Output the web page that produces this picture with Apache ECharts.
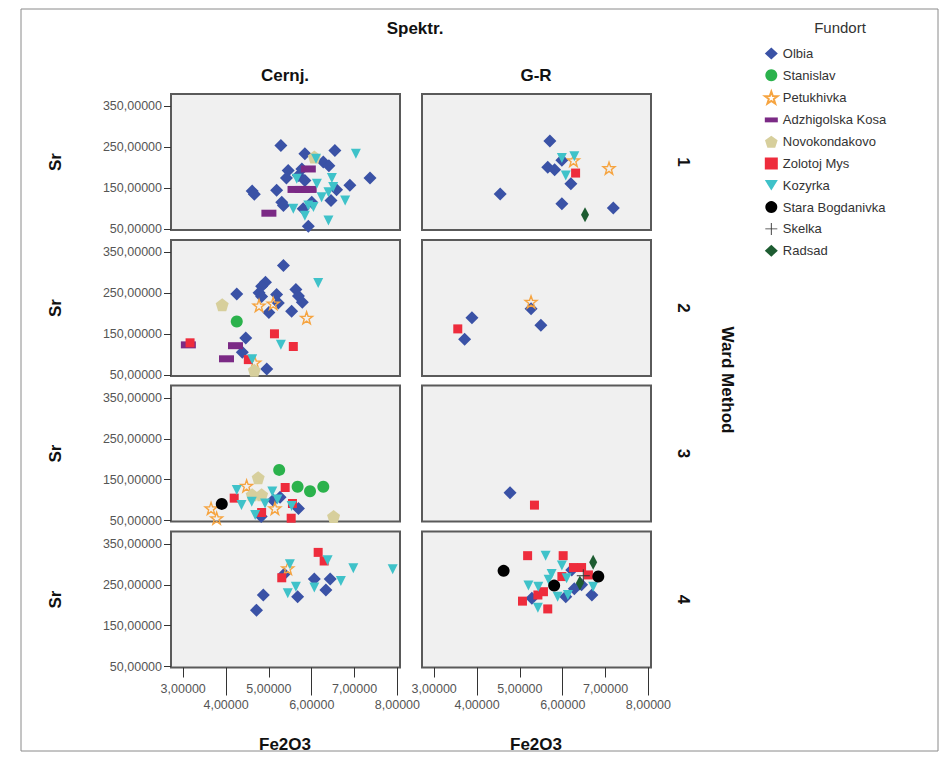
<!DOCTYPE html>
<html><head><meta charset="utf-8">
<script src="https://cdn.jsdelivr.net/npm/echarts@6/dist/echarts.min.js"></script>
<style>html,body{margin:0;padding:0;background:#fff}#c{width:945px;height:757px}</style>
</head><body><div id="c"></div>
<script>
// ---------- data ----------
const fundorte = ['Olbia','Stanislav','Petukhivka','Adzhigolska Kosa','Novokondakovo','Zolotoj Mys','Kozyrka','Stara Bogdanivka','Skelka','Radsad'];
const columns = ['Cernj.','G-R'];
const rowLabels = ['1','2','3','4'];
const xTicksShort = [3,5,7];
const xTicksLong = [4,6,8];
const yTicks = [50,150,250,350];

const cernj1 = [
 ['Olbia',5.28,254],['Olbia',5.84,234],['Olbia',6.54,242],['Olbia',6.27,214],['Olbia',6.40,205],['Olbia',5.45,193],
 ['Olbia',5.41,175],['Olbia',5.69,181],['Olbia',5.84,169],['Olbia',4.61,143],['Olbia',4.66,135],['Olbia',5.18,145],
 ['Olbia',5.30,116],['Olbia',5.34,108],['Olbia',5.80,100],['Olbia',6.00,116],['Olbia',6.45,120],['Olbia',6.58,146],
 ['Olbia',6.89,157],['Olbia',7.36,175],['Olbia',5.92,57],['Olbia',5.77,197],
 ['Adzhigolska Kosa',5.92,197],['Adzhigolska Kosa',5.61,147],['Adzhigolska Kosa',5.78,147],['Adzhigolska Kosa',5.94,147],['Adzhigolska Kosa',5.00,89],
 ['Novokondakovo',6.06,226],
 ['Kozyrka',6.10,222],['Kozyrka',7.03,234],['Kozyrka',5.65,173],['Kozyrka',6.12,161],['Kozyrka',6.47,175],['Kozyrka',6.50,153],
 ['Kozyrka',6.39,140],['Kozyrka',6.78,120],['Kozyrka',5.57,100],['Kozyrka',5.92,108],['Kozyrka',6.04,104],['Kozyrka',5.84,83],
 ['Kozyrka',6.39,71],['Kozyrka',6.23,128]
];
const gr1 = [
 ['Olbia',5.70,265],['Olbia',5.65,201],['Olbia',5.81,195],['Olbia',5.98,218],['Olbia',6.19,161],['Olbia',4.54,136],
 ['Olbia',5.98,112],['Olbia',7.18,102],
 ['Petukhivka',6.25,218],['Petukhivka',7.08,199],
 ['Zolotoj Mys',6.30,187],
 ['Kozyrka',5.98,224],['Kozyrka',6.27,228],['Kozyrka',6.07,181],
 ['Radsad',6.52,85]
];
const cernj2 = [
 ['Olbia',5.34,318],['Olbia',4.92,277],['Olbia',4.83,267],['Olbia',4.77,251],['Olbia',4.83,242],['Olbia',4.25,248],
 ['Olbia',5.18,247],['Olbia',5.22,226],['Olbia',5.00,203],['Olbia',5.63,259],['Olbia',5.69,243],['Olbia',5.78,228],
 ['Olbia',5.53,206],['Olbia',4.46,141],['Olbia',4.38,106],['Olbia',4.95,65],
 ['Stanislav',4.25,181],
 ['Petukhivka',4.77,220],['Petukhivka',5.10,225],['Petukhivka',5.88,190],['Petukhivka',4.67,81],
 ['Adzhigolska Kosa',3.12,124],['Adzhigolska Kosa',4.22,122],['Adzhigolska Kosa',4.01,90],
 ['Novokondakovo',3.91,222],['Novokondakovo',4.66,62],
 ['Zolotoj Mys',3.16,129],['Zolotoj Mys',5.13,151],['Zolotoj Mys',5.57,120],['Zolotoj Mys',4.52,88],
 ['Kozyrka',6.15,275],['Kozyrka',5.28,124],['Kozyrka',4.61,89]
];
const gr2 = [
 ['Olbia',3.88,190],['Olbia',3.71,138],['Olbia',5.26,212],['Olbia',5.49,172],
 ['Petukhivka',5.26,229],
 ['Zolotoj Mys',3.55,163]
];
const cernj3 = [
 ['Olbia',5.26,107],['Olbia',5.69,80],['Olbia',4.82,60],['Olbia',5.10,100],
 ['Stanislav',5.24,174],['Stanislav',5.67,133],['Stanislav',5.96,122],['Stanislav',6.27,133],
 ['Petukhivka',4.48,135],['Petukhivka',3.65,80],['Petukhivka',3.78,56],['Petukhivka',5.14,80],
 ['Novokondakovo',4.75,155],['Novokondakovo',4.61,113],['Novokondakovo',4.83,113],['Novokondakovo',6.51,60],
 ['Zolotoj Mys',5.38,131],['Zolotoj Mys',4.19,105],['Zolotoj Mys',5.55,92],['Zolotoj Mys',4.83,70],['Zolotoj Mys',5.52,56],
 ['Kozyrka',4.25,125],['Kozyrka',4.36,88],['Kozyrka',4.60,96],['Kozyrka',5.08,121],['Kozyrka',4.91,92],['Kozyrka',5.20,102],
 ['Kozyrka',4.68,64],['Kozyrka',5.53,86],
 ['Stara Bogdanivka',3.90,91]
];
const gr3 = [
 ['Olbia',4.77,118],
 ['Zolotoj Mys',5.34,88]
];
const cernj4 = [
 ['Olbia',4.71,188],['Olbia',4.87,225],['Olbia',5.36,276],['Olbia',5.67,221],['Olbia',6.06,264],['Olbia',6.43,264],['Olbia',6.33,237],
 ['Petukhivka',5.44,290],
 ['Zolotoj Mys',6.15,329],['Zolotoj Mys',6.29,308],['Zolotoj Mys',5.30,267],
 ['Kozyrka',5.49,300],['Kozyrka',6.37,310],['Kozyrka',5.63,245],['Kozyrka',5.44,229],['Kozyrka',6.06,243],['Kozyrka',6.68,259],
 ['Kozyrka',6.97,290],['Kozyrka',7.89,288]
];
const gr4 = [
 ['Olbia',5.28,217],['Olbia',6.07,221],['Olbia',6.27,240],['Olbia',6.68,225],['Olbia',6.44,250],['Olbia',6.21,286],
 ['Zolotoj Mys',5.18,321],['Zolotoj Mys',6.01,321],['Zolotoj Mys',5.06,210],['Zolotoj Mys',5.65,191],['Zolotoj Mys',5.42,225],
 ['Zolotoj Mys',5.55,233],['Zolotoj Mys',5.98,270],['Zolotoj Mys',6.25,292],['Zolotoj Mys',6.44,292],['Zolotoj Mys',6.60,274],
 ['Kozyrka',5.60,321],['Kozyrka',5.98,297],['Kozyrka',5.74,276],['Kozyrka',5.20,248],['Kozyrka',5.43,245],['Kozyrka',6.09,266],
 ['Kozyrka',5.88,221],['Kozyrka',6.12,225],['Kozyrka',6.71,245],['Kozyrka',5.42,194],['Kozyrka',5.67,262],
 ['Stara Bogdanivka',4.62,284],['Stara Bogdanivka',5.80,248],['Stara Bogdanivka',6.83,270],
 ['Skelka',6.48,272],
 ['Radsad',6.71,305],['Radsad',6.40,254]
];
const panels = [cernj1, gr1, cernj2, gr2, cernj3, gr3, cernj4, gr4];

// ---------- styles ----------
const STAR = 'path://M0,-10L2.35,-3.24L9.51,-3.09L3.8,1.24L5.88,8.09L0,4L-5.88,8.09L-3.8,1.24L-9.51,-3.09L-2.35,-3.24Z';
const PENT = 'path://M0,-10L9.51,-3.09L5.88,8.09L-5.88,8.09L-9.51,-3.09Z';
const PLUS = 'path://M-0.6,-8H0.6V-0.6H8V0.6H0.6V8H-0.6V0.6H-8V-0.6H-0.6Z';
const BAR = 'path://M0,0L24,0L24,9L0,9Z';
const styleMap = {
 'Olbia': {symbol:'diamond', size:13, color:'#3a52a6'},
 'Stanislav': {symbol:'circle', size:12, color:'#2bb24c'},
 'Petukhivka': {symbol:STAR, size:12, color:'rgba(0,0,0,0)', border:'#f6a440'},
 'Adzhigolska Kosa': {symbol:'rect', size:[15,7], color:'#7b2a85', icon:BAR},
 'Novokondakovo': {symbol:PENT, size:13, color:'#d7cf9c'},
 'Zolotoj Mys': {symbol:'rect', size:9, color:'#ee2c3c'},
 'Kozyrka': {symbol:'triangle', size:10, color:'#3fc2c9', rotate:180},
 'Stara Bogdanivka': {symbol:'circle', size:12, color:'#000000'},
 'Skelka': {symbol:PLUS, size:13, color:'#333333'},
 'Radsad': {symbol:'diamond', size:[8,15], color:'#1d5c31'}
};

const FONT = '"Liberation Sans", Arial, Helvetica, sans-serif';
const fmt = v => v.toFixed(5).replace('.', ',');
const XMIN = 2.715, XMAX = 8.06, YMIN = 48, YMAX = 380;
const colLeft = [171, 422], colW = 229;
const rowTop = [94, 240, 385.5, 531.5], rowH = 136;

const grid = [], xAxis = [], yAxis = [], series = [];
for (let r = 0; r < 4; r++) {
  for (let c = 0; c < 2; c++) {
    const i = r * 2 + c;
    grid.push({left: colLeft[c], top: rowTop[r], width: colW, height: rowH, show: true,
      backgroundColor: '#f0f0f0', borderColor: '#5a5a5a', borderWidth: 2});
    const bottom = r === 3;
    xAxis.push({gridIndex: i, type: 'value', position: 'bottom', min: XMIN, max: XMAX, splitLine: {show: false},
      axisLine: {show: false},
      axisTick: {show: bottom, customValues: xTicksShort, length: 10, lineStyle: {color: '#333'}},
      axisLabel: {show: bottom, customValues: xTicksShort, margin: 15, formatter: fmt,
        color: '#555', fontSize: 12.5, fontFamily: FONT}});
    yAxis.push({gridIndex: i, type: 'value', position: 'left', min: YMIN, max: YMAX, splitLine: {show: false},
      axisLine: {show: false},
      axisTick: {show: c === 0, customValues: yTicks, length: 7, lineStyle: {color: '#333'}},
      axisLabel: {show: c === 0, customValues: yTicks, margin: 9, formatter: fmt,
        color: '#555', fontSize: 12.5, fontFamily: FONT}});
    fundorte.forEach(f => {
      const d = panels[i].filter(p => p[0] === f).map(p => [p[1], p[2]]);
      if (!d.length) return;
      const s = styleMap[f];
      series.push({type: 'scatter', name: f, xAxisIndex: i, yAxisIndex: i, data: d,
        symbol: s.symbol, symbolSize: s.size, symbolRotate: s.rotate || 0, symbolKeepAspect: false,
        itemStyle: {color: s.color, borderColor: s.border || s.color, borderWidth: s.border ? 1.4 : 0, opacity: 1},
        emphasis: {disabled: true}, animation: false});
    });
  }
}
// long ticks for even values on bottom row
[6, 7].forEach(i => {
  xAxis.push({gridIndex: i, type: 'value', position: 'bottom', offset: 0, min: XMIN, max: XMAX, splitLine: {show: false},
    axisLine: {show: false},
    axisTick: {show: true, customValues: xTicksLong, length: 28, lineStyle: {color: '#333'}},
    axisLabel: {show: true, customValues: xTicksLong, margin: 31, formatter: fmt,
      color: '#555', fontSize: 12.5, fontFamily: FONT}});
});

const legendData = fundorte.map(f => {
  const s = styleMap[f];
  const o = {name: f};
  if (s.icon) o.icon = s.icon;
  if (f === 'Kozyrka') o.icon = 'path://M0,0L10,0L5,8Z';
  return o;
});

const T = (text, x, y, opt = {}) => ({type: 'text', x, y, rotation: opt.rot || 0, silent: true,
  style: {text, fill: opt.color || '#111', font: (opt.weight || 'bold') + ' ' + (opt.size || 17) + 'px ' + FONT,
    textAlign: 'center', textVerticalAlign: 'middle'}});

const graphic = [
  {type: 'rect', shape: {x: 21, y: 9, width: 917, height: 742}, style: {fill: 'none', stroke: '#8a8a8a', lineWidth: 1}, silent: true, z: -1},
  T('Spektr.', 415, 28),
  T('Cernj.', 285, 75), T('G-R', 536, 75),
  T('Fe2O3', 285, 744), T('Fe2O3', 536, 744),
  T('Fundort', 840, 27, {weight: 'normal', size: 15, color: '#333'}),
  T('Ward Method', 727, 380, {rot: -Math.PI / 2})
];
rowLabels.forEach((l, r) => {
  graphic.push(T('Sr', 55, rowTop[r] + rowH / 2, {rot: Math.PI / 2}));
  graphic.push(T(l, 683, rowTop[r] + rowH / 2, {rot: -Math.PI / 2}));
});

const chart = echarts.init(document.getElementById('c'), null, {renderer: 'svg'});
chart.setOption({
  animation: false,
  backgroundColor: '#ffffff',
  grid, xAxis, yAxis, series, graphic,
  legend: {orient: 'vertical', left: 759, top: 42, itemGap: 8.8, itemWidth: 13, itemHeight: 12,
    data: legendData, selectedMode: false,
    textStyle: {fontSize: 13, color: '#333', fontFamily: FONT}}
});
</script></body></html>
